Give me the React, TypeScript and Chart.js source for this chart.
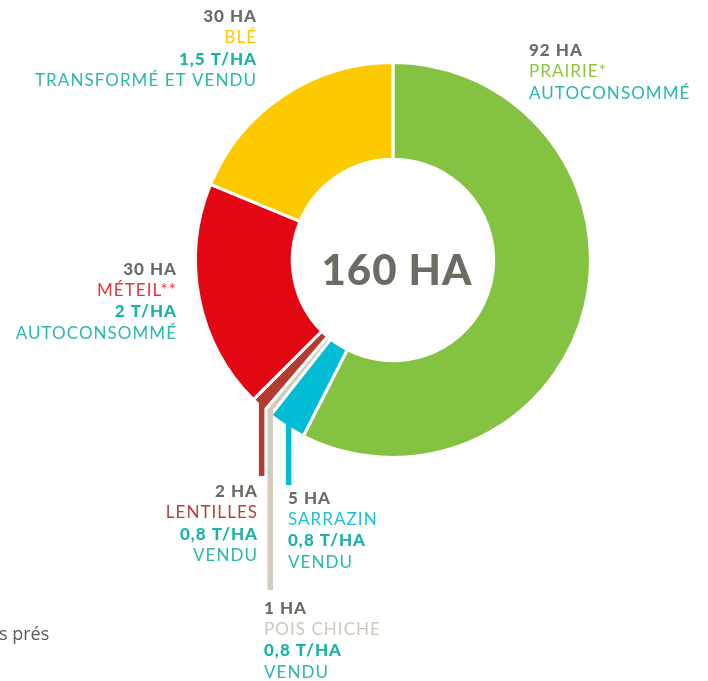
import React, { useEffect, useRef } from "react";
import { Chart, registerables } from "chart.js";

Chart.register(...registerables);

const categories = ["PRAIRIE*", "SARRAZIN", "POIS CHICHE", "LENTILLES", "MÉTEIL**", "BLÉ"];
const areas = [92, 5, 1, 2, 30, 30];
const areaLabels = ["92 HA", "5 HA", "1 HA", "2 HA", "30 HA", "30 HA"];
const yieldLabels = ["", "0,8 T/HA", "0,8 T/HA", "0,8 T/HA", "2 T/HA", "1,5 T/HA"];
const useLabels = ["AUTOCONSOMMÉ", "VENDU", "VENDU", "VENDU", "AUTOCONSOMMÉ", "TRANSFORMÉ ET VENDU"];
const totalLabel = "160 HA";
const footnoteFragment = "s prés";

const sliceColors = ["#84c341", "#00bcd4", "#d3ccbe", "#b33c31", "#e30613", "#fdca00"];
const nameColors = ["#8cc63f", "#1ebfd9", "#cfc8b8", "#b5403a", "#e8333c", "#fcc800"];
const GRAY = "#6d6c64";
const TEAL = "#1ab3a6";
const TEAL_LIGHT = "#2ab8ad";

// label layout: anchor x, first line center y, alignment
const labelLayout = [
  { x: 529, y: 50, align: "left" },
  { x: 288, y: 497.5, align: "left" },
  { x: 264, y: 607.5, align: "left" },
  { x: 257, y: 491, align: "right" },
  { x: 176, y: 268.5, align: "right" },
  { x: 256, y: 16, align: "right" },
];
// leader line bottom y per slice (null = none)
const leaderEnd = [null, 485, 590, 476, null, null];

const labelsPlugin = {
  id: "customLabels",
  afterDatasetsDraw(chart: any) {
    const ctx = chart.ctx;
    const meta = chart.getDatasetMeta(0);
    ctx.save();
    // leader lines
    meta.data.forEach((arc: any, i: number) => {
      const end = leaderEnd[i];
      if (end == null) return;
      const p = arc.getProps(["x", "y", "startAngle", "endAngle", "outerRadius"], true);
      const mid = (p.startAngle + p.endAngle) / 2;
      const sx = p.x + Math.cos(mid) * (p.outerRadius - 4);
      const sy = p.y + Math.sin(mid) * (p.outerRadius - 4);
      ctx.strokeStyle = sliceColors[i];
      ctx.lineWidth = 5.5;
      ctx.beginPath();
      ctx.moveTo(sx, sy);
      ctx.lineTo(sx, end);
      ctx.stroke();
    });
    // text labels
    const step = 21.4;
    categories.forEach((name, i) => {
      const L = labelLayout[i];
      ctx.textAlign = L.align;
      ctx.textBaseline = "alphabetic";
      const lines: { t: string; c: string; f: string; s: number }[] = [
        { t: areaLabels[i], c: GRAY, f: "900 17px Lato", s: 1 },
        { t: name, c: nameColors[i], f: "400 17px Lato", s: 1.05 },
      ];
      if (yieldLabels[i]) lines.push({ t: yieldLabels[i], c: TEAL, f: "900 17px Lato", s: 1 });
      lines.push({ t: useLabels[i], c: TEAL_LIGHT, f: "400 17px Lato", s: 1.05 });
      lines.forEach((ln, k) => {
        ctx.font = ln.f;
        ctx.fillStyle = ln.c;
        (ctx as any).letterSpacing = ln.s + "px";
        const x = L.align === "right" ? L.x + ln.s : L.x;
        ctx.fillText(ln.t, x, L.y + k * step + 6);
      });
    });
    (ctx as any).letterSpacing = "0px";
    // center total
    const a0 = meta.data[0];
    ctx.font = "900 42px Lato";
    ctx.fillStyle = GRAY;
    ctx.textAlign = "center";
    ctx.textBaseline = "alphabetic";
    (ctx as any).letterSpacing = "1px";
    ctx.fillText(totalLabel, a0.x + 4, a0.y + 24.5);
    (ctx as any).letterSpacing = "0px";
    // footnote fragment
    ctx.font = "400 18px 'Open Sans'";
    ctx.fillStyle = "#5a5a5a";
    ctx.textAlign = "left";
    ctx.fillText(footnoteFragment, -1, 640);
    ctx.restore();
  },
};

export default function App() {
  const ref = useRef<HTMLCanvasElement | null>(null);
  useEffect(() => {
    if (!ref.current) return;
    const chart = new Chart(ref.current, {
      type: "doughnut",
      data: {
        labels: categories,
        datasets: [
          {
            data: areas,
            backgroundColor: sliceColors,
            borderColor: "#ffffff",
            borderWidth: 3,
            hoverOffset: 0,
          },
        ],
      },
      options: {
        responsive: false,
        animation: false,
        cutout: "51%",
        rotation: 0,
        layout: { padding: { left: 194, right: 116, top: 61, bottom: 222 } },
        plugins: { legend: { display: false }, tooltip: { enabled: false } },
      },
      plugins: [labelsPlugin],
    });
    return () => chart.destroy();
  }, []);
  return (
    <div style={{ position: "absolute", left: 0, top: 0, width: 708, height: 681, background: "#fff" }}>
      <canvas ref={ref} width={708} height={681} style={{ width: 708, height: 681 }} />
    </div>
  );
}
